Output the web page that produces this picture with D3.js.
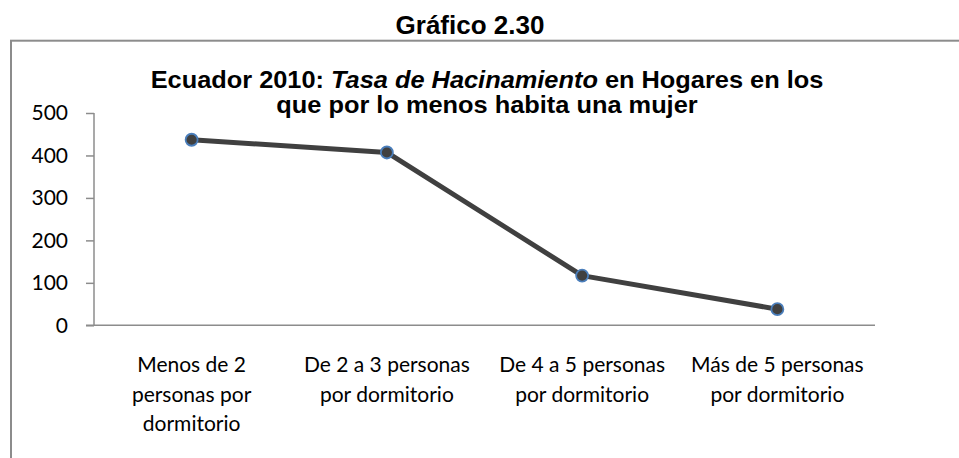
<!DOCTYPE html>
<html>
<head>
<meta charset="utf-8">
<script src="https://cdn.jsdelivr.net/npm/d3@7"></script>
<style>
  html, body { margin: 0; padding: 0; background: #fff; }
  svg { display: block; }
</style>
</head>
<body>
<svg id="chart" width="959" height="458"></svg>
<script>
// Hacinamiento por número de personas por dormitorio
const categories = [
  "Menos de 2 personas por dormitorio",
  "De 2 a 3 personas por dormitorio",
  "De 4 a 5 personas por dormitorio",
  "Más de 5 personas por dormitorio"
];
const categoryLines = [
  ["Menos de 2", "personas por", "dormitorio"],
  ["De 2 a 3 personas", "por dormitorio"],
  ["De 4 a 5 personas", "por dormitorio"],
  ["Más de 5 personas", "por dormitorio"]
];
const values = [437, 407, 117, 38];
const yTicks = [0, 100, 200, 300, 400, 500];

const svg = d3.select("#chart");
const W = 959, H = 458;

const plot = { left: 94, right: 875, top: 113, bottom: 325.3 };

const x = d3.scaleBand().domain(categories).range([plot.left, plot.right]);
const y = d3.scaleLinear().domain([0, 500]).range([plot.bottom, plot.top]);

// outer frame of the chart area
svg.append("rect")
  .attr("x", 11).attr("y", 40.7)
  .attr("width", W + 20).attr("height", H)
  .attr("fill", "none")
  .attr("stroke", "#8c8c8c")
  .attr("stroke-width", 2);

// figure caption
svg.append("text")
  .attr("x", 470).attr("y", 34)
  .attr("text-anchor", "middle")
  .attr("font-family", "Liberation Sans, Arial, sans-serif")
  .attr("font-weight", "bold")
  .attr("font-size", 26)
  .attr("fill", "#000")
  .text("Gráfico 2.30");

// chart title, two lines with an italic span (slightly widened face)
const title = svg.append("text")
  .attr("transform", "translate(487,0) scale(1.08,1)")
  .attr("text-anchor", "middle")
  .attr("font-family", "Liberation Sans, Arial, sans-serif")
  .attr("font-weight", "bold")
  .attr("font-size", 23.5)
  .attr("fill", "#000");
const t1 = title.append("tspan").attr("x", 0).attr("y", 88.3);
t1.append("tspan").text("Ecuador 2010: ");
t1.append("tspan").attr("font-style", "italic").text("Tasa de Hacinamiento");
t1.append("tspan").text(" en Hogares en los");
title.append("tspan").attr("x", 0).attr("y", 113.5).text("que por lo menos habita una mujer");

// y axis
const yAxis = d3.axisLeft(y).tickValues(yTicks).tickSize(8).tickPadding(18);
const gy = svg.append("g").attr("transform", `translate(${plot.left},0)`).call(yAxis);
gy.select(".domain").attr("stroke", "#8c8c8c").attr("stroke-width", 1.5)
  .attr("d", `M0,${plot.top}V${plot.bottom}`);
gy.selectAll(".tick line").attr("stroke", "#8c8c8c").attr("stroke-width", 1.5);
gy.selectAll(".tick text")
  .attr("font-family", "Lato, 'Open Sans', sans-serif")
  .attr("font-size", 21)
  .attr("fill", "#000");

// x axis
const xAxis = d3.axisBottom(x).tickSize(0).tickFormat("");
const gx = svg.append("g").attr("transform", `translate(0,${plot.bottom})`).call(xAxis);
gx.select(".domain").attr("stroke", "#8c8c8c").attr("stroke-width", 1.5)
  .attr("d", `M${plot.left - 8},0H${plot.right}`);

// category labels
categories.forEach((c, i) => {
  const t = svg.append("text")
    .attr("text-anchor", "middle")
    .attr("font-family", "Lato, 'Open Sans', sans-serif")
    .attr("font-size", 21)
    .attr("fill", "#000");
  categoryLines[i].forEach((line, k) => {
    t.append("tspan")
      .attr("x", x(c) + x.bandwidth() / 2)
      .attr("y", 372.3 + k * 29.2)
      .text(line);
  });
});

// series line
const pts = categories.map((c, i) => [x(c) + x.bandwidth() / 2, y(values[i])]);
svg.append("path")
  .attr("d", d3.line()(pts))
  .attr("fill", "none")
  .attr("stroke", "#404040")
  .attr("stroke-width", 5)
  .attr("stroke-linejoin", "round")
  .attr("stroke-linecap", "round");

// markers
svg.selectAll("circle.pt")
  .data(values)
  .join("circle")
  .attr("class", "pt")
  .attr("cx", (d, i) => x(categories[i]) + x.bandwidth() / 2)
  .attr("cy", d => y(d))
  .attr("r", 6)
  .attr("fill", "#404040")
  .attr("stroke", "#4a7ebb")
  .attr("stroke-width", 1.8);
</script>
</body>
</html>
